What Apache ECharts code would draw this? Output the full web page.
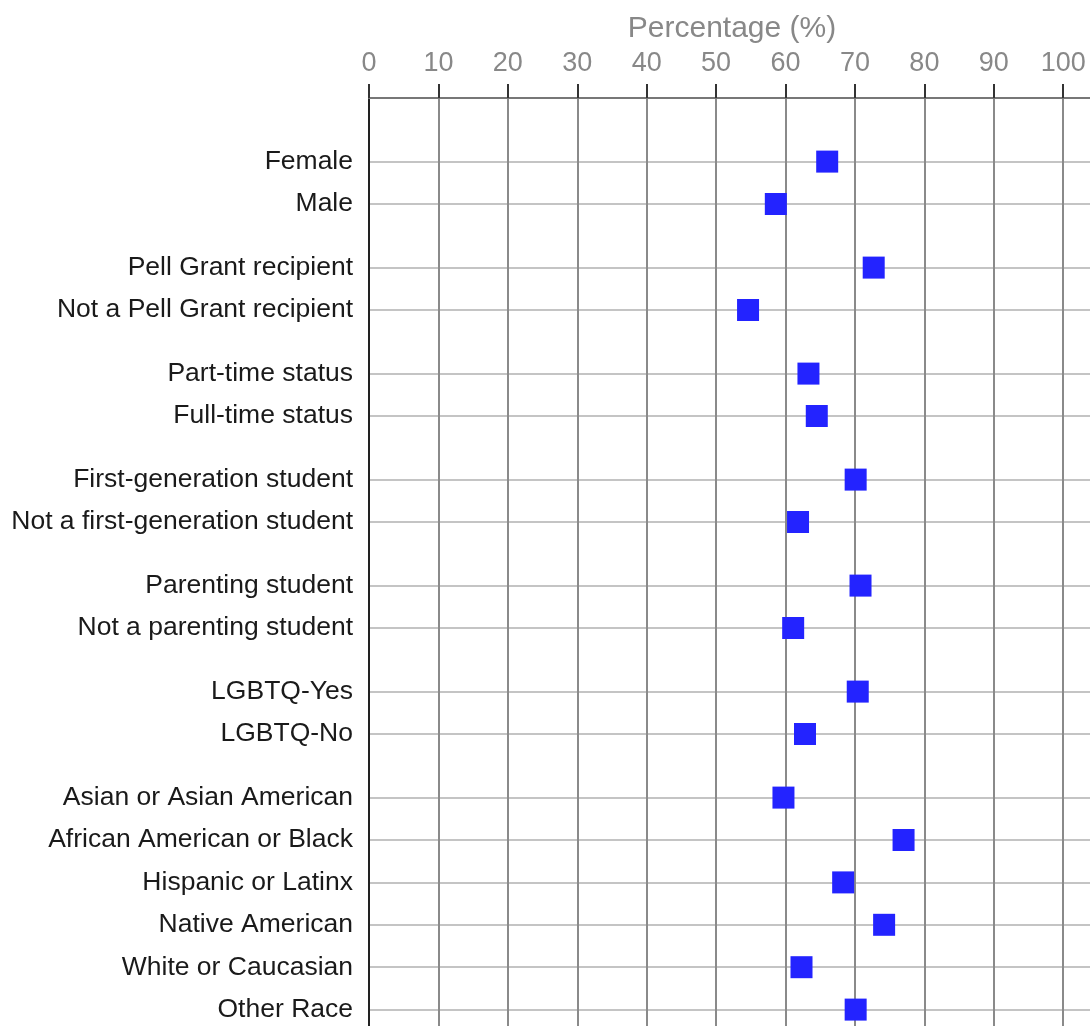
<!DOCTYPE html>
<html>
<head>
<meta charset="utf-8">
<script src="https://cdn.jsdelivr.net/npm/echarts@6/dist/echarts.min.js"></script>
<style>
  html, body { margin: 0; padding: 0; background: #ffffff; }
  #chart { width: 1090px; height: 1026px; }
</style>
</head>
<body>
<div id="chart"></div>
<script>
// ---- Data ----
const groupGender = ['Female', 'Male'];
const valuesGender = [66.0, 58.6];

const groupPell = ['Pell Grant recipient', 'Not a Pell Grant recipient'];
const valuesPell = [72.7, 54.6];

const groupStatus = ['Part-time status', 'Full-time status'];
const valuesStatus = [63.3, 64.5];

const groupFirstGen = ['First-generation student', 'Not a first-generation student'];
const valuesFirstGen = [70.1, 61.8];

const groupParenting = ['Parenting student', 'Not a parenting student'];
const valuesParenting = [70.8, 61.1];

const groupLGBTQ = ['LGBTQ-Yes', 'LGBTQ-No'];
const valuesLGBTQ = [70.4, 62.8];

const groupRace = ['Asian or Asian American', 'African American or Black', 'Hispanic or Latinx',
                   'Native American', 'White or Caucasian', 'Other Race'];
const valuesRace = [59.7, 77.0, 68.3, 74.2, 62.3, 70.1];

const xTickValues = [0, 10, 20, 30, 40, 50, 60, 70, 80, 90, 100];
const xAxisTitle = 'Percentage (%)';

// ---- Build category axis (half-row slots, blank spacers between rows / groups) ----
const groups = [
  [groupGender, valuesGender],
  [groupPell, valuesPell],
  [groupStatus, valuesStatus],
  [groupFirstGen, valuesFirstGen],
  [groupParenting, valuesParenting],
  [groupLGBTQ, valuesLGBTQ],
  [groupRace, valuesRace]
];
const categories = [''];
const points = [];
groups.forEach(function (g) {
  categories.push('', '');
  g[0].forEach(function (name, i) {
    if (i > 0) categories.push('');
    points.push([g[1][i], categories.length]);
    categories.push(name);
  });
});
categories.push('');

const chart = echarts.init(document.getElementById('chart'), null, { renderer: 'canvas' });
const FONT = '"Liberation Sans", Arial, Helvetica, sans-serif';

chart.setOption({
  animation: false,
  backgroundColor: '#ffffff',
  grid: {
    left: 369, top: 98, width: 722, height: (categories.length - 1) * 21.2,
    outerBoundsMode: 'none'
  },
  xAxis: {
    type: 'value',
    position: 'top',
    min: 0,
    max: 104,
    interval: 10,
    name: xAxisTitle,
    nameLocation: 'middle',
    nameGap: 54,
    nameTextStyle: { color: '#888888', fontSize: 30, fontFamily: FONT, padding: [0, 0, 0, 4] },
    axisLine: { show: true, lineStyle: { color: '#777777', width: 2 } },
    axisTick: { show: true, length: 14, lineStyle: { color: '#333333', width: 2 } },
    axisLabel: {
      show: true, color: '#888888', fontSize: 27, fontFamily: FONT, margin: 21,
      showMaxLabel: false,
      formatter: function (v) { return xTickValues.indexOf(v) >= 0 ? String(v) : ''; }
    },
    splitLine: { show: true, showMaxLine: false, lineStyle: { color: '#8a8a8a', width: 2 } }
  },
  yAxis: {
    type: 'category',
    inverse: true,
    boundaryGap: false,
    data: categories,
    axisLine: { show: true, lineStyle: { color: '#222222', width: 2 } },
    axisTick: { show: false },
    axisLabel: {
      show: true, color: '#1a1a1a', fontSize: 26.5, fontFamily: FONT, margin: 16,
      interval: function (index, value) { return value !== ''; }
    },
    splitLine: {
      show: true,
      interval: function (index, value) { return value !== ''; },
      lineStyle: { color: '#c4c4c4', width: 2 }
    }
  },
  series: [{
    type: 'scatter',
    symbol: 'rect',
    symbolSize: 22,
    itemStyle: { color: '#2323ff', opacity: 1 },
    data: points
  }]
});
</script>
</body>
</html>
